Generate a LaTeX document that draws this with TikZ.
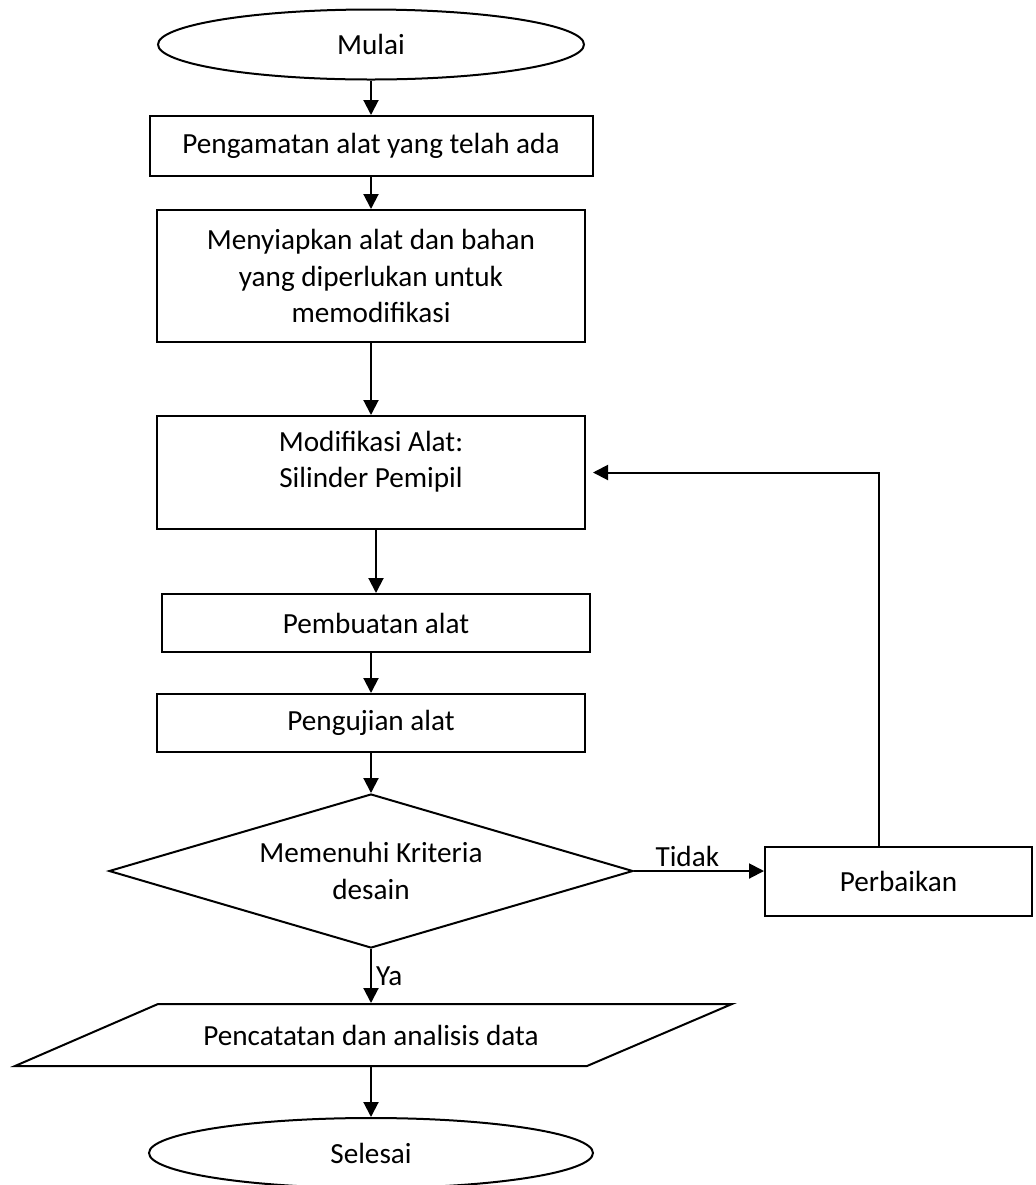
\documentclass[tikz,border=0pt]{standalone}
\usepackage{fontspec}
\setmainfont{Carlito}
\usetikzlibrary{shapes.geometric,arrows.meta}

\tikzset{
	ket/.style={font=\fontsize{14.6pt}{18.3pt}\selectfont},
	kotak/.style={ket,draw,rectangle,align=center,inner sep=0pt},
	oval/.style={ket,draw,ellipse,inner sep=0pt,minimum width=#1,minimum height=35pt},
	belah/.style={ket,draw,diamond,aspect=3.4,align=center,inner sep=0pt},
	panah/.style={-{Triangle[length=7.5pt,width=7.5pt]}}
}

\begin{document}
\begin{tikzpicture}[x=5pt,y=-5pt,line width=1pt]
	\useasboundingbox (0,0) rectangle (103.5,118.5);
	\node[oval=213pt] (mulai) at (37.1,4.45) {Mulai};
	\node[kotak,minimum width=221.5pt,minimum height=30pt] (amati) at (37.1,14.6) {Pengamatan alat yang telah ada};
	\node[kotak,minimum width=214pt,minimum height=66pt] (siap) at (37.1,27.6) {Menyiapkan alat dan bahan\\yang diperlukan untuk\\memodifikasi};
	\node[kotak,minimum width=214pt,minimum height=56.5pt] (modif) at (37.1,47.25) {Modifikasi Alat:\\Silinder Pemipil\\[-5pt]~};
	\node[kotak,minimum width=214pt,minimum height=29pt] (buat) at (37.6,62.3) {Pembuatan alat};
	\node[kotak,minimum width=214pt,minimum height=29pt] (uji) at (37.1,72.3) {Pengujian alat};
	\node[belah,minimum width=262pt,minimum height=77pt] (cek) at (37.1,87.1) {Memenuhi Kriteria\\desain};
	\node[kotak,minimum width=133.5pt,minimum height=34.5pt] (baiki) at (89.85,88.15) {Perbaikan};
	\node[ket,inner sep=0pt,minimum height=31pt] (data) at (37.1,103.5) {Pencatatan dan analisis data};
	\draw (15.8,100.4) -- (73.2,100.4) -- (58.7,106.6) -- (1.5,106.6) -- cycle;
	\node[oval=222pt] (selesai) at (37.1,115.3) {Selesai};
	\draw[panah] (mulai) -- (amati);
	\draw[panah] (amati) -- (siap);
	\draw[panah] (siap) -- (modif);
	\draw[panah] (modif.south -| buat) -- (buat);
	\draw[panah] (buat.south -| uji) -- (uji);
	\draw[panah] (uji) -- (cek);
	\draw[panah] (cek.east) -- node[ket,above,pos=0.41,inner sep=1.5pt] {Tidak} (cek.east -| baiki.west);
	\draw[panah,shorten >=3.5pt] ([xshift=-10pt]baiki.north) |- (modif.east);
	\draw[panah] (cek) -- node[ket,right,inner sep=2pt] {Ya} (data);
	\draw[panah] (data) -- (selesai);
\end{tikzpicture}
\end{document}
